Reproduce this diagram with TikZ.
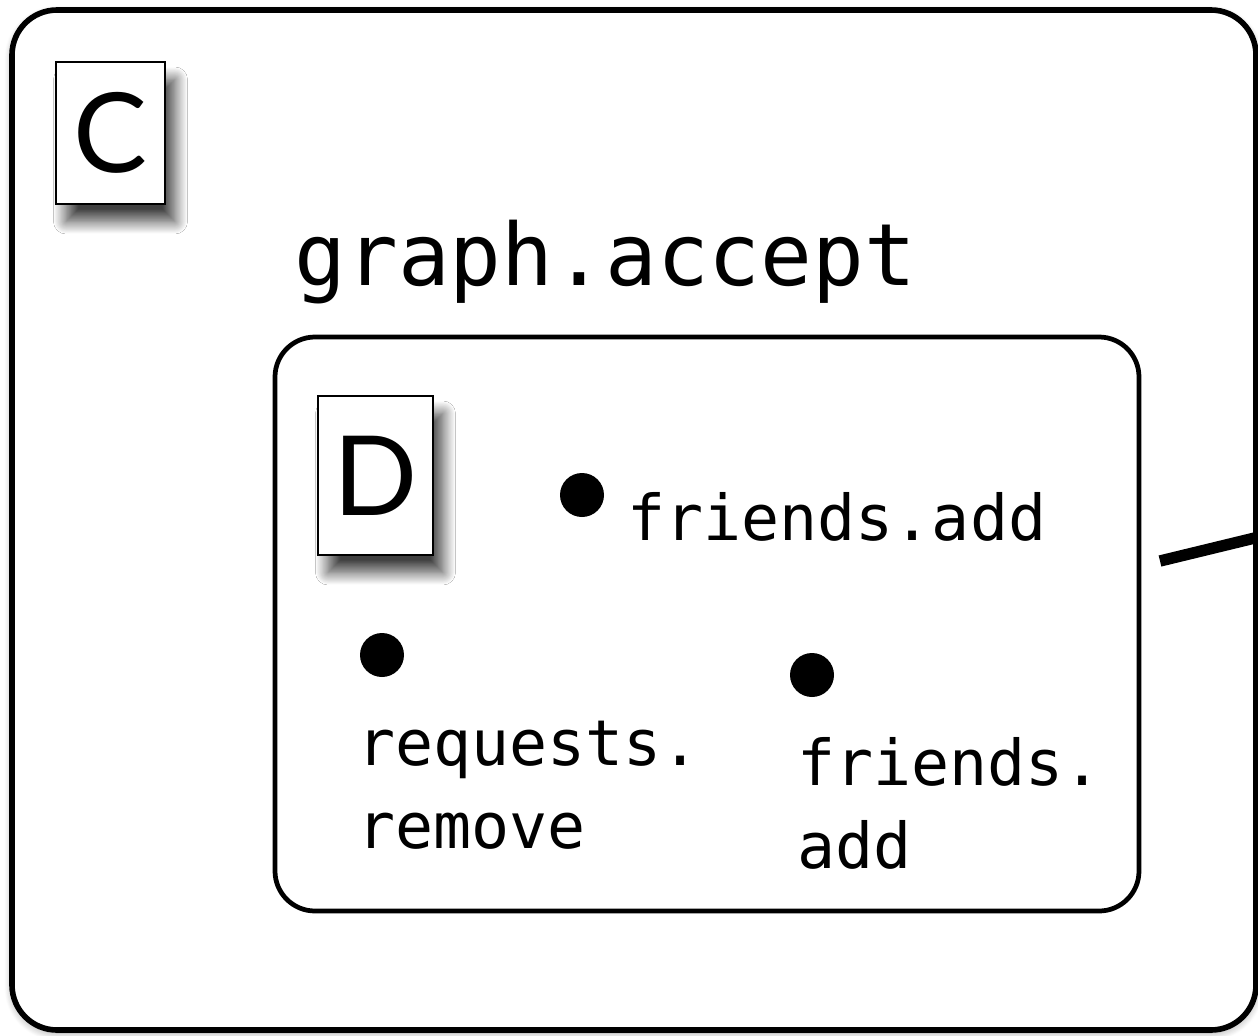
\documentclass[tikz,border=0pt]{standalone}
\usepackage{fontspec}
\setmonofont{DejaVu Sans Mono}
\newfontfamily\tagfont{Lato}
\usetikzlibrary{fit,shadows.blur}

\tikzset{
  frame/.style={draw,line width=3.2pt,rounded corners=0.9cm,fill=white,inner sep=0pt},
  tag/.style={draw,line width=1.2pt,fill=white,inner sep=0pt,
    font=\tagfont\fontsize{63}{63}\selectfont,
    blur shadow={shadow xshift=0.2cm,shadow yshift=-0.35cm,shadow blur radius=0.25cm,
      shadow blur steps=20,shadow opacity=75}},
  dot/.style={circle,fill=black,inner sep=0pt,minimum size=0.88cm},
  call/.style={font=\ttfamily\fontsize{36}{47}\selectfont,inner sep=0pt,align=left,anchor=base west},
  link/.style={line width=6.5pt},
}

\begin{document}
\begin{tikzpicture}[x=0.02cm,y=-0.02cm]
  \useasboundingbox (0,0) rectangle (1258,1035);
  \clip (0,0) rectangle (1258,1035);

  % outer box
  \coordinate (outerNW) at (12,10);
  \coordinate (outerSE) at (1256,1030);
  \node[frame,fit=(outerNW)(outerSE),
    blur shadow={shadow xshift=0pt,shadow yshift=-0.06cm,shadow blur radius=0.15cm,
      shadow blur steps=12,shadow opacity=35}] (component) {};
  \node[tag,minimum width=2.18cm,minimum height=2.84cm] (tagC) at (110.5,133) {C};
  \node[font=\ttfamily\fontsize{49}{49}\selectfont,inner sep=0pt,anchor=base west] (accept) at (294,285) {graph.accept};

  % inner box
  \coordinate (innerNW) at (275,337);
  \coordinate (innerSE) at (1139,911);
  \node[frame,rounded corners=0.8cm,line width=2.7pt,fit=(innerNW)(innerSE)] (acceptbox) {};
  \node[tag,minimum width=2.3cm,minimum height=3.18cm] (tagD) at (375.5,475.5) {D};

  \node[dot] (dotA) at (582,495) {};
  \node[call] (callA) at (627,540) {friends.add};
  \node[dot] (dotB) at (382,655) {};
  \node[call] (callB) at (357,848) {requests.\\remove};
  \node[dot] (dotC) at (812,675) {};
  \node[call] (callC) at (797,868) {friends.\\add};

  % link leaving the box
  \coordinate (linkstart) at (1160,561);
  \coordinate (linkend) at (1300,527);
  \draw[link] (linkstart) -- (linkend);
\end{tikzpicture}
\end{document}
